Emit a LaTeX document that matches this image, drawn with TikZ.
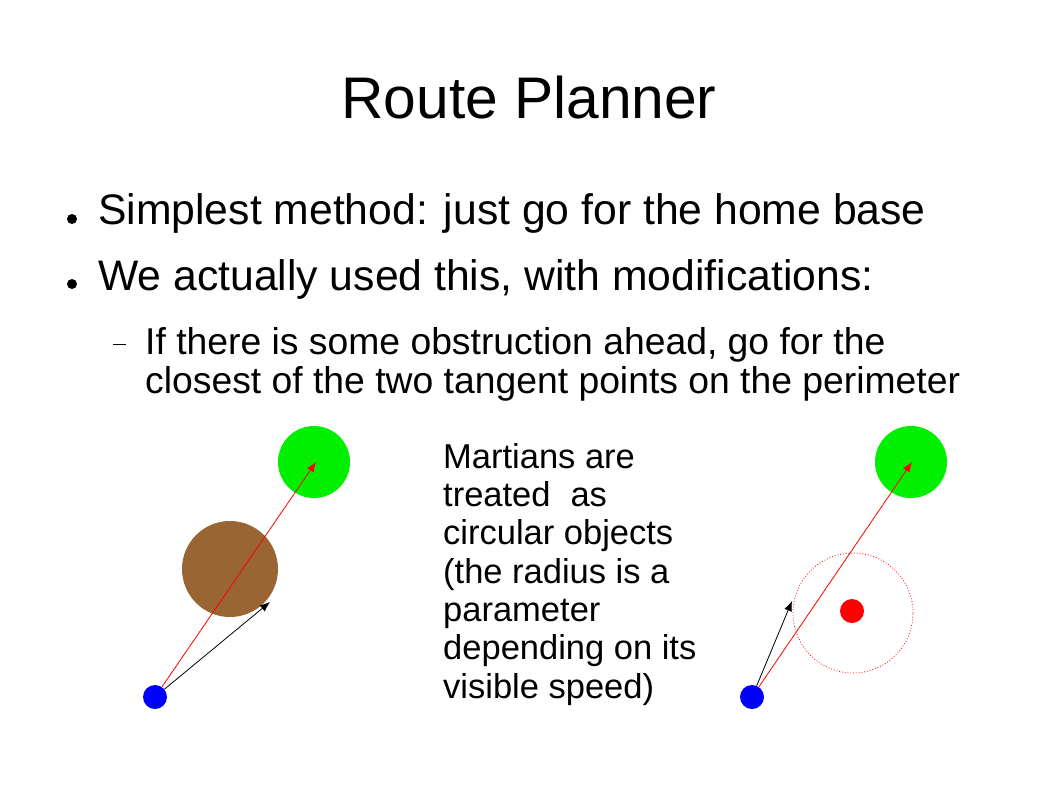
\documentclass[tikz,border=0pt]{standalone}
\usepackage{fontspec}
\setmainfont{Liberation Sans}
\usetikzlibrary{arrows.meta}
\definecolor{brownobj}{RGB}{153,102,51}
\definecolor{greenobj}{RGB}{0,240,0}
\tikzset{
  dot/.style={circle, fill, inner sep=0pt, minimum size=#1},
  vec/.style={line width=0.8pt, -{Latex[length=10pt,width=8pt]}},
  txt/.style={inner sep=0pt, anchor=base west},
}
\begin{document}
\begin{tikzpicture}[x=1pt,y=-1pt]
\path[use as bounding box, fill=white] (0,0) rectangle (1058,793);
% title
\node[inner sep=0pt, anchor=base, font=\fontsize{58.7}{64}\selectfont] (title) at (529,118) {Route Planner};
% bullets
\node[dot=10pt, fill=black] (b1) at (72,219) {};
\node[txt, font=\fontsize{42.7}{48}\selectfont] (t1) at (98,224) {Simplest method: just go for the home base};
\node[dot=10pt, fill=black] (b2) at (72,284) {};
\node[txt, font=\fontsize{42.7}{48}\selectfont] (t2) at (98,290) {We actually used this, with modifications:};
\draw[line width=1pt] (113,344) -- (126,344);
\node[txt, font=\fontsize{37.3}{39}\selectfont] (s1) at (145,354) {If there is some obstruction ahead, go for the};
\node[txt, font=\fontsize{37.3}{39}\selectfont] (s2) at (145,393) {closest of the two tangent points on the perimeter};
% middle text (anchored at the baseline of its last line)
\node[txt, align=left, font=\fontsize{34.5}{38.3}\selectfont] (mt) at (443,698) {Martians are\\treated\hspace{0.3em} as\\circular objects\\(the radius is a\\parameter\\depending on its\\visible speed)};
% left diagram
\node[dot=72pt, fill=greenobj] (g1) at (314,462) {};
\node[dot=96pt, fill=brownobj] (m1) at (230,569) {};
\node[dot=24pt, fill=blue] (r1) at (155,697) {};
\coordinate (g1t) at (316,462);
\coordinate (k1) at (270,602);
\draw[vec, red] (r1) -- (g1t);
\draw[vec, black] (r1) -- (k1);
% right diagram
\node[dot=72pt, fill=greenobj] (g2) at (911,462) {};
\node[circle, draw=red, dotted, line width=0.8pt, minimum size=120pt, inner sep=0pt] (z2) at (853,613) {};
\node[dot=24pt, fill=red] (m2) at (852,611) {};
\node[dot=24pt, fill=blue] (r2) at (752,697) {};
\coordinate (g2t) at (912,462);
\coordinate (k2) at (792,601);
\draw[vec, red] (r2) -- (g2t);
\draw[vec, black] (r2) -- (k2);
\end{tikzpicture}
\end{document}
